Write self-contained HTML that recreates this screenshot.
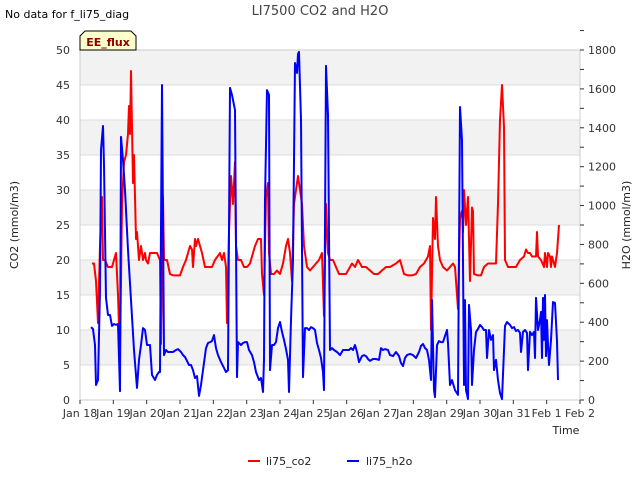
<!DOCTYPE html>
<html><head><meta charset="utf-8"><style>
body{margin:0;background:#fff;font-family:"Liberation Sans","DejaVu Sans",sans-serif}
svg text{font-family:"DejaVu Sans","Liberation Sans",sans-serif}
</style></head><body>
<svg id="chart" width="640" height="480" xmlns="http://www.w3.org/2000/svg">
<text x="320" y="15" text-anchor="middle" font-size="13" fill="#444">LI7500 CO2 and H2O</text>
<text x="5" y="18" font-size="11" fill="#000">No data for f_li75_diag</text>
<g id="bands"></g>
<g id="grid"></g>
<rect x="80" y="50" width="500" height="350" fill="none" stroke="#ccc"/>
<g id="series"></g>
<g id="axes"></g>
<g>
<path d="M80,50 L80,36 L85,31 L131,31 L136,36 L136,50 Z" fill="#ffffcc" stroke="#000" stroke-width="1"/>
<text x="108" y="46" text-anchor="middle" font-size="11" font-weight="bold" fill="#8b0000">EE_flux</text>
</g>
<text transform="translate(18,225) rotate(-90)" text-anchor="middle" font-size="11" fill="#222">CO2 (mmol/m3)</text>
<text transform="translate(630,225) rotate(-90)" text-anchor="middle" font-size="11" fill="#222">H2O (mmol/m3)</text>
<text x="566" y="434" text-anchor="middle" font-size="11" fill="#222">Time</text>
<g>
<line x1="248" y1="461" x2="260" y2="461" stroke="#f00" stroke-width="2"/>
<text x="266" y="465" font-size="11" fill="#222">li75_co2</text></g>
<g>
<line x1="347" y1="461" x2="359" y2="461" stroke="#00f" stroke-width="2"/>
<text x="366" y="465" font-size="11" fill="#222">li75_h2o</text></g>
</svg>
<script>
const xLabels=["Jan 18","Jan 19","Jan 20","Jan 21","Jan 22","Jan 23","Jan 24","Jan 25","Jan 26","Jan 27","Jan 28","Jan 29","Jan 30","Jan 31","Feb 1","Feb 2"];
const leftTicks=[0,5,10,15,20,25,30,35,40,45,50];
const rightTicks=[0,200,400,600,800,1000,1200,1400,1600,1800];
const co2Times=[.36,.42,.48,.54,.60,.66,.69,.75,.84,.96,1.08,1.14,1.20,1.26,1.32,1.38,1.44,1.47,1.50,1.53,1.59,1.62,1.68,1.71,1.77,1.83,1.89,1.95,1.98,2.04,2.10,2.19,2.25,2.31,2.40,2.43,2.49,2.52,2.61,2.70,2.79,2.88,3.00,3.09,3.18,3.24,3.30,3.36,3.39,3.45,3.48,3.54,3.60,3.66,3.75,3.84,3.96,4.05,4.20,4.26,4.32,4.38,4.41,4.47,4.53,4.59,4.65,4.68,4.74,4.83,4.92,5.01,5.10,5.19,5.25,5.34,5.43,5.46,5.52,5.58,5.64,5.67,5.73,5.82,5.91,6.00,6.09,6.18,6.24,6.30,6.36,6.42,6.48,6.54,6.60,6.66,6.72,6.81,6.90,6.99,7.08,7.17,7.26,7.32,7.38,7.44,7.50,7.59,7.68,7.77,7.86,7.98,8.10,8.16,8.25,8.34,8.46,8.58,8.70,8.82,8.94,9.06,9.18,9.30,9.48,9.60,9.66,9.72,9.84,9.96,10.08,10.20,10.32,10.44,10.50,10.53,10.59,10.65,10.68,10.74,10.80,10.89,11.01,11.10,11.19,11.25,11.31,11.34,11.40,11.46,11.49,11.52,11.58,11.64,11.70,11.76,11.79,11.82,11.94,12.03,12.12,12.24,12.36,12.48,12.54,12.60,12.66,12.72,12.75,12.84,12.96,13.08,13.20,13.32,13.38,13.44,13.50,13.56,13.68,13.71,13.74,13.83,13.92,13.95,14.01,14.04,14.10,14.13,14.16,14.22,14.25,14.31,14.37];
const co2Vals=[19.5,19.5,17,11,22,29,20,20,19,19,21,15,6,28,34,35,38,42,38,47,31,35,23,24,20,22,20,21,20,19.5,21,21,21,21,20,8,29,20,20,18,17.8,17.8,17.8,19,20,21,22,21.5,19,23,22,23,22,21,19,19,19,20,21,20,21,19,11,24,32,28,34,22,20,20,19,19,19.5,21,22,23,23,18,15,29,31,21,18,18,18.5,18,19.5,22,23,21,17,28,30,32,30,28,22,19,18.5,19,19.5,20,21,12,28,21,20,20,19,18,18,18,19,19.5,19,20,19,19,18.5,18,18,18.5,19,19,19.5,20,19,18,17.8,17.8,18,19,19.5,20.5,22,10,26,23,29,22,20,19,18.5,19,19.5,19,15,13,26,27,24,30,25,29,17,27.5,27,18,17.8,17.8,19,19.5,19.5,19.5,28,40,45,39,20,19,19,19,20,20.5,21.5,21,21,20.5,20.5,24,20.5,20,19,21,19,21,20.5,19,20.5,19.5,19,21,25];
const h2oTimes=[.33,.39,.45,.48,.54,.60,.63,.69,.72,.78,.84,.90,.96,1.02,1.08,1.14,1.20,1.23,1.29,1.35,1.44,1.53,1.62,1.71,1.77,1.83,1.89,1.95,2.01,2.10,2.16,2.25,2.31,2.37,2.40,2.46,2.52,2.58,2.64,2.70,2.79,2.88,2.94,3.03,3.09,3.15,3.21,3.27,3.33,3.39,3.45,3.51,3.57,3.63,3.69,3.78,3.84,3.90,3.96,4.02,4.08,4.14,4.23,4.32,4.38,4.44,4.50,4.56,4.65,4.71,4.74,4.83,4.89,4.95,5.01,5.07,5.16,5.22,5.28,5.37,5.43,5.49,5.52,5.55,5.61,5.67,5.70,5.76,5.82,5.88,5.94,6.00,6.06,6.12,6.18,6.24,6.27,6.33,6.39,6.45,6.51,6.54,6.57,6.63,6.69,6.75,6.81,6.87,6.93,6.99,7.05,7.11,7.17,7.23,7.29,7.32,7.38,7.44,7.50,7.56,7.62,7.71,7.80,7.89,7.98,8.07,8.13,8.19,8.25,8.31,8.37,8.46,8.52,8.58,8.64,8.70,8.79,8.88,8.97,9.03,9.09,9.15,9.24,9.30,9.39,9.48,9.57,9.63,9.69,9.75,9.81,9.90,9.99,10.08,10.17,10.23,10.29,10.35,10.41,10.47,10.53,10.56,10.62,10.65,10.71,10.77,10.83,10.89,10.95,11.01,11.04,11.10,11.16,11.25,11.34,11.40,11.46,11.52,11.55,11.58,11.64,11.67,11.73,11.76,11.82,11.88,11.94,12.00,12.06,12.12,12.18,12.21,12.27,12.33,12.39,12.42,12.48,12.54,12.60,12.66,12.75,12.81,12.90,12.96,13.02,13.08,13.14,13.20,13.23,13.29,13.35,13.41,13.44,13.50,13.56,13.62,13.65,13.68,13.74,13.80,13.83,13.86,13.89,13.92,13.95,13.98,14.01,14.04,14.07,14.13,14.19,14.25,14.31,14.34];
const h2oVals=[375,365,283,77,103,566,1286,1409,1209,525,437,437,381,391,386,391,46,1353,1234,1080,771,514,257,62,206,283,370,360,283,283,129,103,129,144,144,1620,231,257,247,247,247,257,262,247,231,221,201,180,180,154,113,123,21,77,154,267,293,298,303,334,267,231,195,165,144,154,1605,1569,1491,118,298,283,293,298,298,257,231,195,144,103,113,41,206,1029,1594,1569,154,283,283,298,370,401,350,309,262,206,41,411,720,1733,1682,1780,1790,1440,118,370,370,360,375,370,360,293,257,216,144,51,1718,1466,257,267,257,247,231,257,257,257,267,257,283,247,195,226,231,226,211,201,211,211,206,267,257,262,257,231,226,247,226,190,175,216,231,237,231,216,247,278,288,267,257,206,103,514,51,15,283,303,298,298,329,360,293,77,103,51,26,1507,1337,77,514,51,5,489,360,77,257,350,365,386,375,360,360,216,360,309,334,154,206,103,36,5,381,401,386,370,375,355,360,345,247,350,360,345,154,350,334,350,216,525,360,411,453,216,525,309,540,226,411,283,180,309,504,499,303,103];

const NS="http://www.w3.org/2000/svg";
const X0=80,X1=580,Y0=400,Y1=50;
const xs=t=>X0+t*(X1-X0)/15;
const yL=v=>Y0-v*(Y0-Y1)/50;
const yR=v=>Y0-v*(Y0-Y1)/1800;
function mk(tag,attrs,parent,txt){const e=document.createElementNS(NS,tag);for(const k in attrs)e.setAttribute(k,attrs[k]);if(txt!==undefined)e.textContent=txt;document.getElementById(parent).appendChild(e);return e;}

for(let i=0;i<10;i++){
  if(i%2===1){const b=mk('rect',{x:X0,y:yL((i+1)*5),width:X1-X0,height:yL(i*5)-yL((i+1)*5),fill:'#f2f2f2'},'bands');
  
  }
}
leftTicks.forEach(v=>{
  const g=mk('line',{x1:X0,x2:X1,y1:yL(v),y2:yL(v),stroke:'#ddd'},'grid');
  
  
  const t=mk('text',{x:X0-10,y:yL(v)+4,'text-anchor':'end','font-size':11,fill:'#333'},'axes',String(v));
  
  
});
rightTicks.forEach(v=>{
  mk('line',{x1:X1,x2:X1+4,y1:yR(v),y2:yR(v),stroke:'#333'},'axes');
  mk('line',{x1:X1,x2:X1+4,y1:yR(v+100),y2:yR(v+100),stroke:'#333'},'axes');
  const t=mk('text',{x:X1+8,y:yR(v)+4,'font-size':11,fill:'#333'},'axes',String(v));
  
  
});
xLabels.forEach((l,i)=>{
  mk('line',{x1:xs(i),x2:xs(i),y1:Y0,y2:Y0+4,stroke:'#333'},'axes');
  const t=mk('text',{x:xs(i),y:Y0+17,'text-anchor':'middle','font-size':11,fill:'#333'},'axes',l);
  
  
});
function line(times,vals,yf,color,name){
  const d=times.map((t,i)=>(i?'L':'M')+xs(t).toFixed(1)+','+yf(vals[i]).toFixed(1)).join('');
  const p=mk('path',{d:d,fill:'none',stroke:color,'stroke-width':2,'stroke-linejoin':'round'},'series');
  
  
}
line(co2Times,co2Vals,yL,'#f00','co2-line');
line(h2oTimes,h2oVals,yR,'#00f','h2o-line');
</script>
</body></html>
